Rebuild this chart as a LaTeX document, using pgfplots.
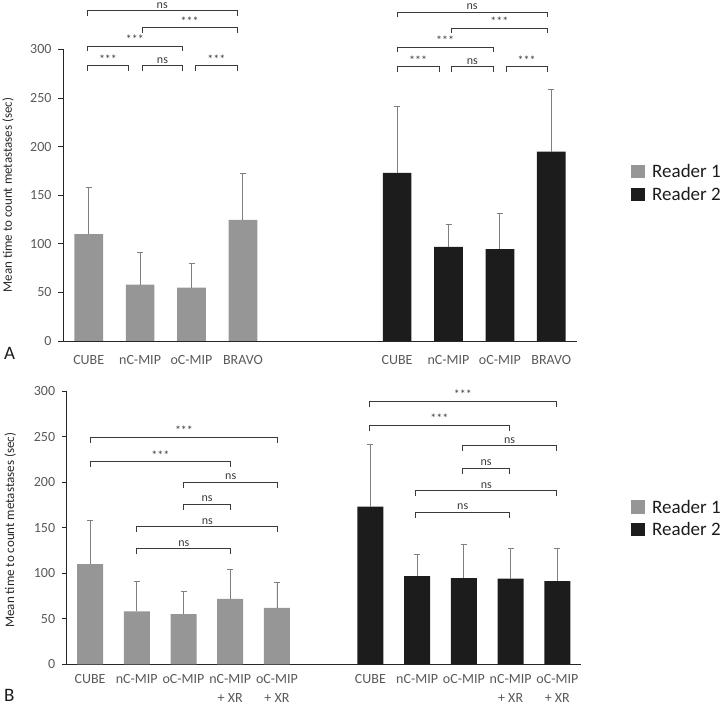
\documentclass[border=0pt]{standalone}
\usepackage{pgfplots}
\pgfplotsset{compat=1.18}
\usepackage{fontspec}
\setmainfont{Carlito}
\definecolor{rone}{HTML}{969696}
\definecolor{rtwo}{HTML}{1C1C1C}
\definecolor{errc}{HTML}{7F7F7F}
\definecolor{tickc}{HTML}{595959}
\definecolor{axisc}{HTML}{262626}
\definecolor{brkc}{HTML}{3A3A3A}
\newcommand\brk[5]{\draw[brkc, line width=0.9pt] (axis cs:#1,#4) -- (axis cs:#1,#3) -- node[anchor=base, yshift=2.5pt, inner sep=0pt, font=\fontsize{12}{12}\selectfont, text=brkc]{#5} (axis cs:#2,#3) -- (axis cs:#2,#4);}
\pgfplotsset{
  common/.style={
    scale only axis, width=514pt,
    axis x line=bottom, axis y line=left,
    axis line style={-, draw=axisc, line width=0.9pt},
    ymin=0, ymax=300, ytick={0,50,...,300},
    tick align=outside, major tick length=5pt,
    ytick style={draw=axisc, line width=0.8pt},
    xtick style={draw=none},
    clip=false,
    /pgf/number format/assume math mode=true,
    tick label style={font=\fontsize{14}{17}\selectfont, text=tickc},
    yticklabel style={xshift=-3pt},
    ylabel={Mean time to count metastases (sec)},
    ylabel style={font=\fontsize{13}{13}\selectfont, text=axisc, anchor=center},
  },
  rbar/.style={ybar, bar shift=0pt, draw=none, fill=#1,
    error bars/.cd, y dir=plus, y explicit,
    error bar style={errc, line width=0.9pt},
    error mark options={rotate=90, errc, line width=0.9pt, mark size=3pt}},
}
\begin{document}
\begin{tikzpicture}
\path[use as bounding box] (0pt,0pt) rectangle (720pt,706pt);
% ---------- Panel A ----------
\begin{axis}[common, at={(63pt,365pt)}, anchor=south west, height=291.7pt,
  xmin=0.5, xmax=10.5,
  xtick={1,2,3,4,7,8,9,10},
  xticklabels={CUBE,nC-MIP,oC-MIP,BRAVO,CUBE,nC-MIP,oC-MIP,BRAVO},
  xticklabel style={yshift=-6pt},
  ylabel style={at={(axis description cs:-0.107,0.5)}}]
\addplot[bar width=28.7pt, rbar=rone] table[x=x, y=y, y error=e] {
x y e
1 110 47.4
2 58 33.2
3 55 25.1
4 124.5 48.3
};
\addplot[bar width=28.7pt, rbar=rtwo] table[x=x, y=y, y error=e] {
x y e
7 173 68
8 96.7 23.6
9 94.6 37
10 194.7 64.2
};
\brk{0.97}{1.78}{283}{278}{***}
\brk{2.04}{2.83}{283}{278}{ns}
\brk{3.08}{3.89}{283}{278}{***}
\brk{0.97}{2.83}{303}{298}{***}
\brk{2.04}{3.89}{322}{317}{***}
\brk{0.97}{3.89}{339.5}{334.5}{ns}
\brk{7.0}{7.82}{282}{277}{***}
\brk{8.06}{8.87}{282}{277}{ns}
\brk{9.12}{9.92}{282}{277}{***}
\brk{7.0}{8.87}{302}{297}{***}
\brk{8.06}{9.92}{321.5}{316.5}{***}
\brk{7.0}{9.92}{338}{333}{ns}
\end{axis}
% ---------- Panel B ----------
\begin{axis}[common, at={(66.7pt,41.7pt)}, anchor=south west, height=273.3pt,
  xmin=0.5, xmax=11.5,
  xtick={1,2,3,4,5,7,8,9,10,11},
  xticklabels={CUBE,nC-MIP,oC-MIP,{nC-MIP\\[2pt]+ XR},{oC-MIP\\[2pt]+ XR},CUBE,nC-MIP,oC-MIP,{nC-MIP\\[2pt]+ XR},{oC-MIP\\[2pt]+ XR}},
  xticklabel style={anchor=north, align=center, inner sep=1pt, yshift=-3.5pt},
  ylabel style={at={(axis description cs:-0.110,0.49)}}]
\addplot[bar width=26pt, rbar=rone] table[x=x, y=y, y error=e] {
x y e
1 110 47.4
2 58 33.2
3 55 25.4
4 71.7 32.2
5 61.8 28.2
};
\addplot[bar width=26pt, rbar=rtwo] table[x=x, y=y, y error=e] {
x y e
7 173 68
8 96.7 24
9 94.6 37
10 94 33
11 91.4 35.4
};
\brk{1.0}{5.02}{249}{243}{***}
\brk{1.0}{4.01}{222.5}{216.5}{***}
\brk{3.0}{5.02}{200}{194}{ns}
\brk{3.0}{4.01}{175.5}{169.5}{ns}
\brk{2.0}{5.02}{151}{145}{ns}
\brk{2.0}{4.01}{127}{121}{ns}
\brk{6.97}{10.99}{288.5}{282.5}{***}
\brk{6.97}{9.98}{262.5}{256.5}{***}
\brk{8.97}{10.99}{240}{234}{ns}
\brk{8.97}{9.98}{215}{209}{ns}
\brk{7.97}{10.99}{190.5}{184.5}{ns}
\brk{7.97}{9.98}{167}{161}{ns}
\end{axis}
% ---------- Legends and panel letters ----------
\fill[rone] (630.7pt,528pt) rectangle (645pt,541.3pt);
\node[anchor=base west, inner sep=0pt, font=\fontsize{19}{19}\selectfont, text=rtwo] at (652pt,528.4pt) {Reader 1};
\fill[rtwo] (630.7pt,504.7pt) rectangle (645pt,518.3pt);
\node[anchor=base west, inner sep=0pt, font=\fontsize{19}{19}\selectfont, text=rtwo] at (652pt,505.4pt) {Reader 2};
\fill[rone] (630.7pt,192pt) rectangle (645pt,206pt);
\node[anchor=base west, inner sep=0pt, font=\fontsize{19}{19}\selectfont, text=rtwo] at (652pt,192.9pt) {Reader 1};
\fill[rtwo] (630.7pt,170pt) rectangle (645pt,183.3pt);
\node[anchor=base west, inner sep=0pt, font=\fontsize{19}{19}\selectfont, text=rtwo] at (652pt,170.6pt) {Reader 2};
\node[anchor=base west, inner sep=0pt, font=\fontsize{19}{19}\selectfont, text=rtwo] at (4pt,346pt) {A};
\node[anchor=base west, inner sep=0pt, font=\fontsize{19}{19}\selectfont, text=rtwo] at (4pt,4pt) {B};
\end{tikzpicture}
\end{document}
